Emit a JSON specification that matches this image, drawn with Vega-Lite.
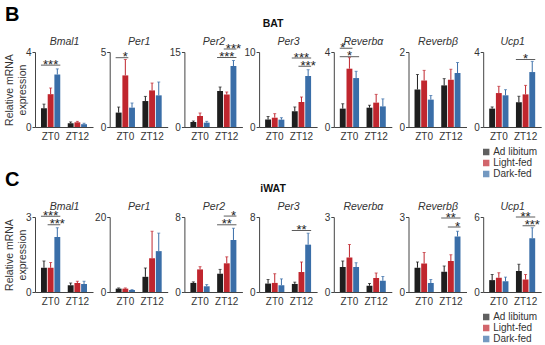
{
"$schema":"https://vega.github.io/schema/vega-lite/v6.json",
"padding":{"left":4,"right":0,"top":4,"bottom":0},
"datasets":{
"bars":[
{"tissue":"BAT","gene":"Bmal1","zt":"ZT0","group":"Ad libitum","mean":1.0,"upper":1.22},
{"tissue":"BAT","gene":"Bmal1","zt":"ZT0","group":"Light-fed","mean":1.75,"upper":2.08},
{"tissue":"BAT","gene":"Bmal1","zt":"ZT0","group":"Dark-fed","mean":2.8,"upper":3.1},
{"tissue":"BAT","gene":"Bmal1","zt":"ZT12","group":"Ad libitum","mean":0.2,"upper":0.27},
{"tissue":"BAT","gene":"Bmal1","zt":"ZT12","group":"Light-fed","mean":0.25,"upper":0.3},
{"tissue":"BAT","gene":"Bmal1","zt":"ZT12","group":"Dark-fed","mean":0.15,"upper":0.2},
{"tissue":"BAT","gene":"Per1","zt":"ZT0","group":"Ad libitum","mean":0.96,"upper":1.33},
{"tissue":"BAT","gene":"Per1","zt":"ZT0","group":"Light-fed","mean":3.44,"upper":4.5},
{"tissue":"BAT","gene":"Per1","zt":"ZT0","group":"Dark-fed","mean":1.29,"upper":1.6},
{"tissue":"BAT","gene":"Per1","zt":"ZT12","group":"Ad libitum","mean":1.73,"upper":2.04},
{"tissue":"BAT","gene":"Per1","zt":"ZT12","group":"Light-fed","mean":2.44,"upper":2.93},
{"tissue":"BAT","gene":"Per1","zt":"ZT12","group":"Dark-fed","mean":2.11,"upper":3.0},
{"tissue":"BAT","gene":"Per2","zt":"ZT0","group":"Ad libitum","mean":1.0,"upper":1.2},
{"tissue":"BAT","gene":"Per2","zt":"ZT0","group":"Light-fed","mean":2.2,"upper":2.8},
{"tissue":"BAT","gene":"Per2","zt":"ZT0","group":"Dark-fed","mean":0.87,"upper":1.13},
{"tissue":"BAT","gene":"Per2","zt":"ZT12","group":"Ad libitum","mean":7.2,"upper":8.0},
{"tissue":"BAT","gene":"Per2","zt":"ZT12","group":"Light-fed","mean":6.5,"upper":7.0},
{"tissue":"BAT","gene":"Per2","zt":"ZT12","group":"Dark-fed","mean":12.2,"upper":13.3},
{"tissue":"BAT","gene":"Per3","zt":"ZT0","group":"Ad libitum","mean":1.0,"upper":1.4},
{"tissue":"BAT","gene":"Per3","zt":"ZT0","group":"Light-fed","mean":1.24,"upper":1.78},
{"tissue":"BAT","gene":"Per3","zt":"ZT0","group":"Dark-fed","mean":0.98,"upper":1.24},
{"tissue":"BAT","gene":"Per3","zt":"ZT12","group":"Ad libitum","mean":2.1,"upper":2.67},
{"tissue":"BAT","gene":"Per3","zt":"ZT12","group":"Light-fed","mean":3.33,"upper":4.0},
{"tissue":"BAT","gene":"Per3","zt":"ZT12","group":"Dark-fed","mean":6.8,"upper":7.64},
{"tissue":"BAT","gene":"Reverbα","zt":"ZT0","group":"Ad libitum","mean":0.98,"upper":1.24},
{"tissue":"BAT","gene":"Reverbα","zt":"ZT0","group":"Light-fed","mean":3.11,"upper":3.7},
{"tissue":"BAT","gene":"Reverbα","zt":"ZT0","group":"Dark-fed","mean":2.61,"upper":2.97},
{"tissue":"BAT","gene":"Reverbα","zt":"ZT12","group":"Ad libitum","mean":1.03,"upper":1.16},
{"tissue":"BAT","gene":"Reverbα","zt":"ZT12","group":"Light-fed","mean":1.3,"upper":1.74},
{"tissue":"BAT","gene":"Reverbα","zt":"ZT12","group":"Dark-fed","mean":1.1,"upper":1.5},
{"tissue":"BAT","gene":"Reverbβ","zt":"ZT0","group":"Ad libitum","mean":1.0,"upper":1.4},
{"tissue":"BAT","gene":"Reverbβ","zt":"ZT0","group":"Light-fed","mean":1.24,"upper":1.51},
{"tissue":"BAT","gene":"Reverbβ","zt":"ZT0","group":"Dark-fed","mean":0.73,"upper":0.84},
{"tissue":"BAT","gene":"Reverbβ","zt":"ZT12","group":"Ad libitum","mean":1.11,"upper":1.29},
{"tissue":"BAT","gene":"Reverbβ","zt":"ZT12","group":"Light-fed","mean":1.26,"upper":1.54},
{"tissue":"BAT","gene":"Reverbβ","zt":"ZT12","group":"Dark-fed","mean":1.44,"upper":1.72},
{"tissue":"BAT","gene":"Ucp1","zt":"ZT0","group":"Ad libitum","mean":0.98,"upper":1.07},
{"tissue":"BAT","gene":"Ucp1","zt":"ZT0","group":"Light-fed","mean":1.81,"upper":2.17},
{"tissue":"BAT","gene":"Ucp1","zt":"ZT0","group":"Dark-fed","mean":1.69,"upper":1.99},
{"tissue":"BAT","gene":"Ucp1","zt":"ZT12","group":"Ad libitum","mean":1.32,"upper":1.64},
{"tissue":"BAT","gene":"Ucp1","zt":"ZT12","group":"Light-fed","mean":1.74,"upper":2.22},
{"tissue":"BAT","gene":"Ucp1","zt":"ZT12","group":"Dark-fed","mean":2.93,"upper":3.5},
{"tissue":"iWAT","gene":"Bmal1","zt":"ZT0","group":"Ad libitum","mean":0.97,"upper":1.24},
{"tissue":"iWAT","gene":"Bmal1","zt":"ZT0","group":"Light-fed","mean":0.97,"upper":1.18},
{"tissue":"iWAT","gene":"Bmal1","zt":"ZT0","group":"Dark-fed","mean":2.2,"upper":2.57},
{"tissue":"iWAT","gene":"Bmal1","zt":"ZT12","group":"Ad libitum","mean":0.27,"upper":0.36},
{"tissue":"iWAT","gene":"Bmal1","zt":"ZT12","group":"Light-fed","mean":0.36,"upper":0.43},
{"tissue":"iWAT","gene":"Bmal1","zt":"ZT12","group":"Dark-fed","mean":0.32,"upper":0.43},
{"tissue":"iWAT","gene":"Per1","zt":"ZT0","group":"Ad libitum","mean":0.9,"upper":1.08},
{"tissue":"iWAT","gene":"Per1","zt":"ZT0","group":"Light-fed","mean":0.9,"upper":1.08},
{"tissue":"iWAT","gene":"Per1","zt":"ZT0","group":"Dark-fed","mean":0.54,"upper":0.63},
{"tissue":"iWAT","gene":"Per1","zt":"ZT12","group":"Ad libitum","mean":4.05,"upper":6.4},
{"tissue":"iWAT","gene":"Per1","zt":"ZT12","group":"Light-fed","mean":9.0,"upper":16.2},
{"tissue":"iWAT","gene":"Per1","zt":"ZT12","group":"Dark-fed","mean":10.9,"upper":15.7},
{"tissue":"iWAT","gene":"Per2","zt":"ZT0","group":"Ad libitum","mean":0.97,"upper":1.08},
{"tissue":"iWAT","gene":"Per2","zt":"ZT0","group":"Light-fed","mean":2.41,"upper":2.7},
{"tissue":"iWAT","gene":"Per2","zt":"ZT0","group":"Dark-fed","mean":0.61,"upper":0.79},
{"tissue":"iWAT","gene":"Per2","zt":"ZT12","group":"Ad libitum","mean":1.95,"upper":2.41},
{"tissue":"iWAT","gene":"Per2","zt":"ZT12","group":"Light-fed","mean":3.06,"upper":3.75},
{"tissue":"iWAT","gene":"Per2","zt":"ZT12","group":"Dark-fed","mean":5.55,"upper":6.8},
{"tissue":"iWAT","gene":"Per3","zt":"ZT0","group":"Ad libitum","mean":0.9,"upper":1.33},
{"tissue":"iWAT","gene":"Per3","zt":"ZT0","group":"Light-fed","mean":0.97,"upper":1.95},
{"tissue":"iWAT","gene":"Per3","zt":"ZT0","group":"Dark-fed","mean":0.72,"upper":1.4},
{"tissue":"iWAT","gene":"Per3","zt":"ZT12","group":"Ad libitum","mean":0.86,"upper":1.05},
{"tissue":"iWAT","gene":"Per3","zt":"ZT12","group":"Light-fed","mean":2.13,"upper":3.2},
{"tissue":"iWAT","gene":"Per3","zt":"ZT12","group":"Dark-fed","mean":5.05,"upper":6.27},
{"tissue":"iWAT","gene":"Reverbα","zt":"ZT0","group":"Ad libitum","mean":1.0,"upper":1.24},
{"tissue":"iWAT","gene":"Reverbα","zt":"ZT0","group":"Light-fed","mean":1.38,"upper":1.9},
{"tissue":"iWAT","gene":"Reverbα","zt":"ZT0","group":"Dark-fed","mean":1.0,"upper":1.17},
{"tissue":"iWAT","gene":"Reverbα","zt":"ZT12","group":"Ad libitum","mean":0.25,"upper":0.34},
{"tissue":"iWAT","gene":"Reverbα","zt":"ZT12","group":"Light-fed","mean":0.56,"upper":0.76},
{"tissue":"iWAT","gene":"Reverbα","zt":"ZT12","group":"Dark-fed","mean":0.45,"upper":0.62},
{"tissue":"iWAT","gene":"Reverbβ","zt":"ZT0","group":"Ad libitum","mean":0.97,"upper":1.2},
{"tissue":"iWAT","gene":"Reverbβ","zt":"ZT0","group":"Light-fed","mean":1.14,"upper":1.58},
{"tissue":"iWAT","gene":"Reverbβ","zt":"ZT0","group":"Dark-fed","mean":0.36,"upper":0.5},
{"tissue":"iWAT","gene":"Reverbβ","zt":"ZT12","group":"Ad libitum","mean":0.81,"upper":1.04},
{"tissue":"iWAT","gene":"Reverbβ","zt":"ZT12","group":"Light-fed","mean":1.24,"upper":1.49},
{"tissue":"iWAT","gene":"Reverbβ","zt":"ZT12","group":"Dark-fed","mean":2.22,"upper":2.43},
{"tissue":"iWAT","gene":"Ucp1","zt":"ZT0","group":"Ad libitum","mean":0.95,"upper":1.4},
{"tissue":"iWAT","gene":"Ucp1","zt":"ZT0","group":"Light-fed","mean":1.14,"upper":1.54},
{"tissue":"iWAT","gene":"Ucp1","zt":"ZT0","group":"Dark-fed","mean":0.86,"upper":1.19},
{"tissue":"iWAT","gene":"Ucp1","zt":"ZT12","group":"Ad libitum","mean":1.68,"upper":2.22},
{"tissue":"iWAT","gene":"Ucp1","zt":"ZT12","group":"Light-fed","mean":1.0,"upper":1.4},
{"tissue":"iWAT","gene":"Ucp1","zt":"ZT12","group":"Dark-fed","mean":4.3,"upper":5.14}
],
"sig":[
{"tissue":"BAT","gene":"Bmal1","from":"ZT0|Ad libitum","to":"ZT0|Dark-fed","mid":"ZT0|Light-fed","y":3.3,"label":"***"},
{"tissue":"BAT","gene":"Per1","from":"ZT0|Ad libitum","to":"ZT0|Light-fed","mid":"ZT0|Light-fed","y":4.62,"label":"*"},
{"tissue":"BAT","gene":"Per2","from":"ZT12|Ad libitum","to":"ZT12|Dark-fed","mid":"ZT12|Light-fed","y":13.9,"label":"***"},
{"tissue":"BAT","gene":"Per2","from":"ZT12|Light-fed","to":"ZT12|Dark-fed","mid":"ZT12|Dark-fed","y":15.6,"label":"***"},
{"tissue":"BAT","gene":"Per3","from":"ZT12|Ad libitum","to":"ZT12|Dark-fed","mid":"ZT12|Light-fed","y":9.2,"label":"***"},
{"tissue":"BAT","gene":"Per3","from":"ZT12|Light-fed","to":"ZT12|Dark-fed","mid":"ZT12|Dark-fed","y":8.1,"label":"***"},
{"tissue":"BAT","gene":"Reverbα","from":"ZT0|Ad libitum","to":"ZT0|Light-fed","mid":"ZT0|Ad libitum","y":4.2,"label":"*"},
{"tissue":"BAT","gene":"Reverbα","from":"ZT0|Ad libitum","to":"ZT0|Dark-fed","mid":"ZT0|Light-fed","y":3.75,"label":"*"},
{"tissue":"BAT","gene":"Ucp1","from":"ZT12|Ad libitum","to":"ZT12|Dark-fed","mid":"ZT12|Light-fed","y":3.6,"label":"*"},
{"tissue":"iWAT","gene":"Bmal1","from":"ZT0|Ad libitum","to":"ZT0|Dark-fed","mid":"ZT0|Light-fed","y":3.03,"label":"***"},
{"tissue":"iWAT","gene":"Bmal1","from":"ZT0|Light-fed","to":"ZT0|Dark-fed","mid":"ZT0|Dark-fed","y":2.69,"label":"***"},
{"tissue":"iWAT","gene":"Per2","from":"ZT12|Ad libitum","to":"ZT12|Dark-fed","mid":"ZT12|Light-fed","y":7.17,"label":"**"},
{"tissue":"iWAT","gene":"Per2","from":"ZT12|Light-fed","to":"ZT12|Dark-fed","mid":"ZT12|Dark-fed","y":8.1,"label":"*"},
{"tissue":"iWAT","gene":"Per3","from":"ZT12|Ad libitum","to":"ZT12|Dark-fed","mid":"ZT12|Light-fed","y":6.56,"label":"**"},
{"tissue":"iWAT","gene":"Reverbβ","from":"ZT12|Ad libitum","to":"ZT12|Dark-fed","mid":"ZT12|Light-fed","y":2.96,"label":"**"},
{"tissue":"iWAT","gene":"Reverbβ","from":"ZT12|Light-fed","to":"ZT12|Dark-fed","mid":"ZT12|Dark-fed","y":2.6,"label":"*"},
{"tissue":"iWAT","gene":"Ucp1","from":"ZT12|Ad libitum","to":"ZT12|Dark-fed","mid":"ZT12|Light-fed","y":6.0,"label":"**"},
{"tissue":"iWAT","gene":"Ucp1","from":"ZT12|Light-fed","to":"ZT12|Dark-fed","mid":"ZT12|Dark-fed","y":5.3,"label":"***"}
]
},
"spacing":-11,
"resolve":{"scale":{"color":"independent"}},
"vconcat":[
{"title":{"text":"B","anchor":"start","fontSize":20,"fontWeight":"bold","color":"#000","offset":-6},
 "resolve":{"scale":{"color":"independent"}},
 "vconcat":[{"title":{"text":"BAT","anchor":"middle","fontSize":10.5,"fontWeight":"bold","color":"#111","offset":7},
 "bounds":"flush","spacing":16.7,"resolve":{"scale":{"color":"independent"}},
 "hconcat":[
{"width":58,"height":75,"resolve":{"axis":{"x":"independent"}},"layer":[
 {"data":{"name":"bars"},"transform":[{"filter":"datum.tissue=='BAT'&&datum.gene=='Bmal1'"},{"calculate":"datum.zt+'|'+datum.group","as":"slot"}],
  "encoding":{"x":{"field":"slot","type":"nominal","scale":{"domain":["ZT0|Ad libitum","ZT0|Light-fed","ZT0|Dark-fed","gap","ZT12|Ad libitum","ZT12|Light-fed","ZT12|Dark-fed"],"paddingInner":0.12,"paddingOuter":0.9},"axis":{"values":["ZT0|Light-fed","ZT12|Light-fed"],"labelExpr":"split(datum.value,'|')[0]","title":null}},
   "color":{"field":"group","type":"nominal","scale":{"domain":["Ad libitum","Light-fed","Dark-fed"],"range":["#1e1e1e","#c0262e","#3a6ea8"]},"legend":null}},
  "layer":[
   {"mark":"bar","encoding":{"y":{"field":"mean","type":"quantitative","scale":{"domain":[0,4],"nice":false},"axis":{"values":[0,4],"title":["Relative mRNA","expression"],"titlePadding":-2}}}},
   {"mark":{"type":"rule","strokeWidth":1},"encoding":{"y":{"field":"mean","type":"quantitative"},"y2":{"field":"upper"}}},
   {"mark":{"type":"tick","size":3,"thickness":1},"encoding":{"y":{"field":"upper","type":"quantitative"}}}]},
 {"data":{"name":"sig"},"transform":[{"filter":"datum.tissue=='BAT'&&datum.gene=='Bmal1'"}],"layer":[
   {"mark":{"type":"rule","color":"#333","strokeWidth":0.8,"xOffset":-3,"x2Offset":3},"encoding":{"x":{"field":"from","type":"nominal","axis":{"orient":"top","labels":false,"ticks":false,"domain":false,"title":"Bmal1"}},"x2":{"field":"to"},"y":{"field":"y","type":"quantitative"}}},
   {"mark":{"type":"text","fontSize":13,"dy":3.5,"baseline":"alphabetic","color":"#222"},"encoding":{"x":{"field":"mid","type":"nominal"},"y":{"field":"y","type":"quantitative"},"text":{"field":"label"}}}]}]},
{"width":58,"height":75,"resolve":{"axis":{"x":"independent"}},"layer":[
 {"data":{"name":"bars"},"transform":[{"filter":"datum.tissue=='BAT'&&datum.gene=='Per1'"},{"calculate":"datum.zt+'|'+datum.group","as":"slot"}],
  "encoding":{"x":{"field":"slot","type":"nominal","scale":{"domain":["ZT0|Ad libitum","ZT0|Light-fed","ZT0|Dark-fed","gap","ZT12|Ad libitum","ZT12|Light-fed","ZT12|Dark-fed"],"paddingInner":0.12,"paddingOuter":0.9},"axis":{"values":["ZT0|Light-fed","ZT12|Light-fed"],"labelExpr":"split(datum.value,'|')[0]","title":null}},
   "color":{"field":"group","type":"nominal","scale":{"domain":["Ad libitum","Light-fed","Dark-fed"],"range":["#1e1e1e","#c0262e","#3a6ea8"]},"legend":null}},
  "layer":[
   {"mark":"bar","encoding":{"y":{"field":"mean","type":"quantitative","scale":{"domain":[0,5],"nice":false},"axis":{"values":[0,5],"title":null}}}},
   {"mark":{"type":"rule","strokeWidth":1},"encoding":{"y":{"field":"mean","type":"quantitative","title":null},"y2":{"field":"upper"}}},
   {"mark":{"type":"tick","size":3,"thickness":1},"encoding":{"y":{"field":"upper","type":"quantitative","title":null}}}]},
 {"data":{"name":"sig"},"transform":[{"filter":"datum.tissue=='BAT'&&datum.gene=='Per1'"}],"layer":[
   {"mark":{"type":"rule","color":"#333","strokeWidth":0.8,"xOffset":-3,"x2Offset":3},"encoding":{"x":{"field":"from","type":"nominal","axis":{"orient":"top","labels":false,"ticks":false,"domain":false,"title":"Per1"}},"x2":{"field":"to"},"y":{"field":"y","type":"quantitative","title":null}}},
   {"mark":{"type":"text","fontSize":13,"dy":3.5,"baseline":"alphabetic","color":"#222"},"encoding":{"x":{"field":"mid","type":"nominal"},"y":{"field":"y","type":"quantitative","title":null},"text":{"field":"label"}}}]}]},
{"width":58,"height":75,"resolve":{"axis":{"x":"independent"}},"layer":[
 {"data":{"name":"bars"},"transform":[{"filter":"datum.tissue=='BAT'&&datum.gene=='Per2'"},{"calculate":"datum.zt+'|'+datum.group","as":"slot"}],
  "encoding":{"x":{"field":"slot","type":"nominal","scale":{"domain":["ZT0|Ad libitum","ZT0|Light-fed","ZT0|Dark-fed","gap","ZT12|Ad libitum","ZT12|Light-fed","ZT12|Dark-fed"],"paddingInner":0.12,"paddingOuter":0.9},"axis":{"values":["ZT0|Light-fed","ZT12|Light-fed"],"labelExpr":"split(datum.value,'|')[0]","title":null}},
   "color":{"field":"group","type":"nominal","scale":{"domain":["Ad libitum","Light-fed","Dark-fed"],"range":["#1e1e1e","#c0262e","#3a6ea8"]},"legend":null}},
  "layer":[
   {"mark":"bar","encoding":{"y":{"field":"mean","type":"quantitative","scale":{"domain":[0,15],"nice":false},"axis":{"values":[0,15],"title":null}}}},
   {"mark":{"type":"rule","strokeWidth":1},"encoding":{"y":{"field":"mean","type":"quantitative","title":null},"y2":{"field":"upper"}}},
   {"mark":{"type":"tick","size":3,"thickness":1},"encoding":{"y":{"field":"upper","type":"quantitative","title":null}}}]},
 {"data":{"name":"sig"},"transform":[{"filter":"datum.tissue=='BAT'&&datum.gene=='Per2'"}],"layer":[
   {"mark":{"type":"rule","color":"#333","strokeWidth":0.8,"xOffset":-3,"x2Offset":3},"encoding":{"x":{"field":"from","type":"nominal","axis":{"orient":"top","labels":false,"ticks":false,"domain":false,"title":"Per2"}},"x2":{"field":"to"},"y":{"field":"y","type":"quantitative","title":null}}},
   {"mark":{"type":"text","fontSize":13,"dy":3.5,"baseline":"alphabetic","color":"#222"},"encoding":{"x":{"field":"mid","type":"nominal"},"y":{"field":"y","type":"quantitative","title":null},"text":{"field":"label"}}}]}]},
{"width":58,"height":75,"resolve":{"axis":{"x":"independent"}},"layer":[
 {"data":{"name":"bars"},"transform":[{"filter":"datum.tissue=='BAT'&&datum.gene=='Per3'"},{"calculate":"datum.zt+'|'+datum.group","as":"slot"}],
  "encoding":{"x":{"field":"slot","type":"nominal","scale":{"domain":["ZT0|Ad libitum","ZT0|Light-fed","ZT0|Dark-fed","gap","ZT12|Ad libitum","ZT12|Light-fed","ZT12|Dark-fed"],"paddingInner":0.12,"paddingOuter":0.9},"axis":{"values":["ZT0|Light-fed","ZT12|Light-fed"],"labelExpr":"split(datum.value,'|')[0]","title":null}},
   "color":{"field":"group","type":"nominal","scale":{"domain":["Ad libitum","Light-fed","Dark-fed"],"range":["#1e1e1e","#c0262e","#3a6ea8"]},"legend":null}},
  "layer":[
   {"mark":"bar","encoding":{"y":{"field":"mean","type":"quantitative","scale":{"domain":[0,10],"nice":false},"axis":{"values":[0,10],"title":null}}}},
   {"mark":{"type":"rule","strokeWidth":1},"encoding":{"y":{"field":"mean","type":"quantitative","title":null},"y2":{"field":"upper"}}},
   {"mark":{"type":"tick","size":3,"thickness":1},"encoding":{"y":{"field":"upper","type":"quantitative","title":null}}}]},
 {"data":{"name":"sig"},"transform":[{"filter":"datum.tissue=='BAT'&&datum.gene=='Per3'"}],"layer":[
   {"mark":{"type":"rule","color":"#333","strokeWidth":0.8,"xOffset":-3,"x2Offset":3},"encoding":{"x":{"field":"from","type":"nominal","axis":{"orient":"top","labels":false,"ticks":false,"domain":false,"title":"Per3"}},"x2":{"field":"to"},"y":{"field":"y","type":"quantitative","title":null}}},
   {"mark":{"type":"text","fontSize":13,"dy":3.5,"baseline":"alphabetic","color":"#222"},"encoding":{"x":{"field":"mid","type":"nominal"},"y":{"field":"y","type":"quantitative","title":null},"text":{"field":"label"}}}]}]},
{"width":58,"height":75,"resolve":{"axis":{"x":"independent"}},"layer":[
 {"data":{"name":"bars"},"transform":[{"filter":"datum.tissue=='BAT'&&datum.gene=='Reverbα'"},{"calculate":"datum.zt+'|'+datum.group","as":"slot"}],
  "encoding":{"x":{"field":"slot","type":"nominal","scale":{"domain":["ZT0|Ad libitum","ZT0|Light-fed","ZT0|Dark-fed","gap","ZT12|Ad libitum","ZT12|Light-fed","ZT12|Dark-fed"],"paddingInner":0.12,"paddingOuter":0.9},"axis":{"values":["ZT0|Light-fed","ZT12|Light-fed"],"labelExpr":"split(datum.value,'|')[0]","title":null}},
   "color":{"field":"group","type":"nominal","scale":{"domain":["Ad libitum","Light-fed","Dark-fed"],"range":["#1e1e1e","#c0262e","#3a6ea8"]},"legend":null}},
  "layer":[
   {"mark":"bar","encoding":{"y":{"field":"mean","type":"quantitative","scale":{"domain":[0,4],"nice":false},"axis":{"values":[0,4],"title":null}}}},
   {"mark":{"type":"rule","strokeWidth":1},"encoding":{"y":{"field":"mean","type":"quantitative","title":null},"y2":{"field":"upper"}}},
   {"mark":{"type":"tick","size":3,"thickness":1},"encoding":{"y":{"field":"upper","type":"quantitative","title":null}}}]},
 {"data":{"name":"sig"},"transform":[{"filter":"datum.tissue=='BAT'&&datum.gene=='Reverbα'"}],"layer":[
   {"mark":{"type":"rule","color":"#333","strokeWidth":0.8,"xOffset":-3,"x2Offset":3},"encoding":{"x":{"field":"from","type":"nominal","axis":{"orient":"top","labels":false,"ticks":false,"domain":false,"title":"Reverbα"}},"x2":{"field":"to"},"y":{"field":"y","type":"quantitative","title":null}}},
   {"mark":{"type":"text","fontSize":13,"dy":3.5,"baseline":"alphabetic","color":"#222"},"encoding":{"x":{"field":"mid","type":"nominal"},"y":{"field":"y","type":"quantitative","title":null},"text":{"field":"label"}}}]}]},
{"width":58,"height":75,"resolve":{"axis":{"x":"independent"}},"layer":[
 {"data":{"name":"bars"},"transform":[{"filter":"datum.tissue=='BAT'&&datum.gene=='Reverbβ'"},{"calculate":"datum.zt+'|'+datum.group","as":"slot"}],
  "encoding":{"x":{"field":"slot","type":"nominal","scale":{"domain":["ZT0|Ad libitum","ZT0|Light-fed","ZT0|Dark-fed","gap","ZT12|Ad libitum","ZT12|Light-fed","ZT12|Dark-fed"],"paddingInner":0.12,"paddingOuter":0.9},"axis":{"values":["ZT0|Light-fed","ZT12|Light-fed"],"labelExpr":"split(datum.value,'|')[0]","title":null}},
   "color":{"field":"group","type":"nominal","scale":{"domain":["Ad libitum","Light-fed","Dark-fed"],"range":["#1e1e1e","#c0262e","#3a6ea8"]},"legend":null}},
  "layer":[
   {"mark":"bar","encoding":{"y":{"field":"mean","type":"quantitative","scale":{"domain":[0,2],"nice":false},"axis":{"values":[0,2],"title":null}}}},
   {"mark":{"type":"rule","strokeWidth":1},"encoding":{"y":{"field":"mean","type":"quantitative","title":null},"y2":{"field":"upper"}}},
   {"mark":{"type":"tick","size":3,"thickness":1},"encoding":{"y":{"field":"upper","type":"quantitative","title":null}}}]},
 {"data":{"name":"sig"},"transform":[{"filter":"datum.tissue=='BAT'&&datum.gene=='Reverbβ'"}],"layer":[
   {"mark":{"type":"rule","color":"#333","strokeWidth":0.8,"xOffset":-3,"x2Offset":3},"encoding":{"x":{"field":"from","type":"nominal","axis":{"orient":"top","labels":false,"ticks":false,"domain":false,"title":"Reverbβ"}},"x2":{"field":"to"},"y":{"field":"y","type":"quantitative","title":null}}},
   {"mark":{"type":"text","fontSize":13,"dy":3.5,"baseline":"alphabetic","color":"#222"},"encoding":{"x":{"field":"mid","type":"nominal"},"y":{"field":"y","type":"quantitative","title":null},"text":{"field":"label"}}}]}]},
{"width":58,"height":75,"resolve":{"axis":{"x":"independent"}},"layer":[
 {"data":{"name":"bars"},"transform":[{"filter":"datum.tissue=='BAT'&&datum.gene=='Ucp1'"},{"calculate":"datum.zt+'|'+datum.group","as":"slot"}],
  "encoding":{"x":{"field":"slot","type":"nominal","scale":{"domain":["ZT0|Ad libitum","ZT0|Light-fed","ZT0|Dark-fed","gap","ZT12|Ad libitum","ZT12|Light-fed","ZT12|Dark-fed"],"paddingInner":0.12,"paddingOuter":0.9},"axis":{"values":["ZT0|Light-fed","ZT12|Light-fed"],"labelExpr":"split(datum.value,'|')[0]","title":null}},
   "color":{"field":"group","type":"nominal","scale":{"domain":["Ad libitum","Light-fed","Dark-fed"],"range":["#1e1e1e","#c0262e","#3a6ea8"]},"legend":{"orient":"none","legendX":-2,"legendY":95,"title":null,"symbolType":"square","symbolSize":24,"labelFontSize":10,"labelColor":"#333","rowPadding":-2,"labelOffset":2}}},
  "layer":[
   {"mark":"bar","encoding":{"y":{"field":"mean","type":"quantitative","scale":{"domain":[0,4],"nice":false},"axis":{"values":[0,4],"title":null}}}},
   {"mark":{"type":"rule","strokeWidth":1},"encoding":{"y":{"field":"mean","type":"quantitative","title":null},"y2":{"field":"upper"}}},
   {"mark":{"type":"tick","size":3,"thickness":1},"encoding":{"y":{"field":"upper","type":"quantitative","title":null}}}]},
 {"data":{"name":"sig"},"transform":[{"filter":"datum.tissue=='BAT'&&datum.gene=='Ucp1'"}],"layer":[
   {"mark":{"type":"rule","color":"#333","strokeWidth":0.8,"xOffset":-3,"x2Offset":3},"encoding":{"x":{"field":"from","type":"nominal","axis":{"orient":"top","labels":false,"ticks":false,"domain":false,"title":"Ucp1"}},"x2":{"field":"to"},"y":{"field":"y","type":"quantitative","title":null}}},
   {"mark":{"type":"text","fontSize":13,"dy":3.5,"baseline":"alphabetic","color":"#222"},"encoding":{"x":{"field":"mid","type":"nominal"},"y":{"field":"y","type":"quantitative","title":null},"text":{"field":"label"}}}]}]}
 ]}]},
{"title":{"text":"C","anchor":"start","fontSize":20,"fontWeight":"bold","color":"#000","offset":-6},
 "resolve":{"scale":{"color":"independent"}},
 "vconcat":[{"title":{"text":"iWAT","anchor":"middle","fontSize":10.5,"fontWeight":"bold","color":"#111","offset":7},
 "bounds":"flush","spacing":16.7,"resolve":{"scale":{"color":"independent"}},
 "hconcat":[
{"width":58,"height":75,"resolve":{"axis":{"x":"independent"}},"layer":[
 {"data":{"name":"bars"},"transform":[{"filter":"datum.tissue=='iWAT'&&datum.gene=='Bmal1'"},{"calculate":"datum.zt+'|'+datum.group","as":"slot"}],
  "encoding":{"x":{"field":"slot","type":"nominal","scale":{"domain":["ZT0|Ad libitum","ZT0|Light-fed","ZT0|Dark-fed","gap","ZT12|Ad libitum","ZT12|Light-fed","ZT12|Dark-fed"],"paddingInner":0.12,"paddingOuter":0.9},"axis":{"values":["ZT0|Light-fed","ZT12|Light-fed"],"labelExpr":"split(datum.value,'|')[0]","title":null}},
   "color":{"field":"group","type":"nominal","scale":{"domain":["Ad libitum","Light-fed","Dark-fed"],"range":["#1e1e1e","#c0262e","#3a6ea8"]},"legend":null}},
  "layer":[
   {"mark":"bar","encoding":{"y":{"field":"mean","type":"quantitative","scale":{"domain":[0,3],"nice":false},"axis":{"values":[0,3],"title":["Relative mRNA","expression"],"titlePadding":-2}}}},
   {"mark":{"type":"rule","strokeWidth":1},"encoding":{"y":{"field":"mean","type":"quantitative"},"y2":{"field":"upper"}}},
   {"mark":{"type":"tick","size":3,"thickness":1},"encoding":{"y":{"field":"upper","type":"quantitative"}}}]},
 {"data":{"name":"sig"},"transform":[{"filter":"datum.tissue=='iWAT'&&datum.gene=='Bmal1'"}],"layer":[
   {"mark":{"type":"rule","color":"#333","strokeWidth":0.8,"xOffset":-3,"x2Offset":3},"encoding":{"x":{"field":"from","type":"nominal","axis":{"orient":"top","labels":false,"ticks":false,"domain":false,"title":"Bmal1"}},"x2":{"field":"to"},"y":{"field":"y","type":"quantitative"}}},
   {"mark":{"type":"text","fontSize":13,"dy":3.5,"baseline":"alphabetic","color":"#222"},"encoding":{"x":{"field":"mid","type":"nominal"},"y":{"field":"y","type":"quantitative"},"text":{"field":"label"}}}]}]},
{"width":58,"height":75,"resolve":{"axis":{"x":"independent"}},"layer":[
 {"data":{"name":"bars"},"transform":[{"filter":"datum.tissue=='iWAT'&&datum.gene=='Per1'"},{"calculate":"datum.zt+'|'+datum.group","as":"slot"}],
  "encoding":{"x":{"field":"slot","type":"nominal","scale":{"domain":["ZT0|Ad libitum","ZT0|Light-fed","ZT0|Dark-fed","gap","ZT12|Ad libitum","ZT12|Light-fed","ZT12|Dark-fed"],"paddingInner":0.12,"paddingOuter":0.9},"axis":{"values":["ZT0|Light-fed","ZT12|Light-fed"],"labelExpr":"split(datum.value,'|')[0]","title":null}},
   "color":{"field":"group","type":"nominal","scale":{"domain":["Ad libitum","Light-fed","Dark-fed"],"range":["#1e1e1e","#c0262e","#3a6ea8"]},"legend":null}},
  "layer":[
   {"mark":"bar","encoding":{"y":{"field":"mean","type":"quantitative","scale":{"domain":[0,20],"nice":false},"axis":{"values":[0,20],"title":null}}}},
   {"mark":{"type":"rule","strokeWidth":1},"encoding":{"y":{"field":"mean","type":"quantitative","title":null},"y2":{"field":"upper"}}},
   {"mark":{"type":"tick","size":3,"thickness":1},"encoding":{"y":{"field":"upper","type":"quantitative","title":null}}}]},
 {"data":{"name":"sig"},"transform":[{"filter":"datum.tissue=='iWAT'&&datum.gene=='Per1'"}],"layer":[
   {"mark":{"type":"rule","color":"#333","strokeWidth":0.8,"xOffset":-3,"x2Offset":3},"encoding":{"x":{"field":"from","type":"nominal","axis":{"orient":"top","labels":false,"ticks":false,"domain":false,"title":"Per1"}},"x2":{"field":"to"},"y":{"field":"y","type":"quantitative","title":null}}},
   {"mark":{"type":"text","fontSize":13,"dy":3.5,"baseline":"alphabetic","color":"#222"},"encoding":{"x":{"field":"mid","type":"nominal"},"y":{"field":"y","type":"quantitative","title":null},"text":{"field":"label"}}}]}]},
{"width":58,"height":75,"resolve":{"axis":{"x":"independent"}},"layer":[
 {"data":{"name":"bars"},"transform":[{"filter":"datum.tissue=='iWAT'&&datum.gene=='Per2'"},{"calculate":"datum.zt+'|'+datum.group","as":"slot"}],
  "encoding":{"x":{"field":"slot","type":"nominal","scale":{"domain":["ZT0|Ad libitum","ZT0|Light-fed","ZT0|Dark-fed","gap","ZT12|Ad libitum","ZT12|Light-fed","ZT12|Dark-fed"],"paddingInner":0.12,"paddingOuter":0.9},"axis":{"values":["ZT0|Light-fed","ZT12|Light-fed"],"labelExpr":"split(datum.value,'|')[0]","title":null}},
   "color":{"field":"group","type":"nominal","scale":{"domain":["Ad libitum","Light-fed","Dark-fed"],"range":["#1e1e1e","#c0262e","#3a6ea8"]},"legend":null}},
  "layer":[
   {"mark":"bar","encoding":{"y":{"field":"mean","type":"quantitative","scale":{"domain":[0,8],"nice":false},"axis":{"values":[0,8],"title":null}}}},
   {"mark":{"type":"rule","strokeWidth":1},"encoding":{"y":{"field":"mean","type":"quantitative","title":null},"y2":{"field":"upper"}}},
   {"mark":{"type":"tick","size":3,"thickness":1},"encoding":{"y":{"field":"upper","type":"quantitative","title":null}}}]},
 {"data":{"name":"sig"},"transform":[{"filter":"datum.tissue=='iWAT'&&datum.gene=='Per2'"}],"layer":[
   {"mark":{"type":"rule","color":"#333","strokeWidth":0.8,"xOffset":-3,"x2Offset":3},"encoding":{"x":{"field":"from","type":"nominal","axis":{"orient":"top","labels":false,"ticks":false,"domain":false,"title":"Per2"}},"x2":{"field":"to"},"y":{"field":"y","type":"quantitative","title":null}}},
   {"mark":{"type":"text","fontSize":13,"dy":3.5,"baseline":"alphabetic","color":"#222"},"encoding":{"x":{"field":"mid","type":"nominal"},"y":{"field":"y","type":"quantitative","title":null},"text":{"field":"label"}}}]}]},
{"width":58,"height":75,"resolve":{"axis":{"x":"independent"}},"layer":[
 {"data":{"name":"bars"},"transform":[{"filter":"datum.tissue=='iWAT'&&datum.gene=='Per3'"},{"calculate":"datum.zt+'|'+datum.group","as":"slot"}],
  "encoding":{"x":{"field":"slot","type":"nominal","scale":{"domain":["ZT0|Ad libitum","ZT0|Light-fed","ZT0|Dark-fed","gap","ZT12|Ad libitum","ZT12|Light-fed","ZT12|Dark-fed"],"paddingInner":0.12,"paddingOuter":0.9},"axis":{"values":["ZT0|Light-fed","ZT12|Light-fed"],"labelExpr":"split(datum.value,'|')[0]","title":null}},
   "color":{"field":"group","type":"nominal","scale":{"domain":["Ad libitum","Light-fed","Dark-fed"],"range":["#1e1e1e","#c0262e","#3a6ea8"]},"legend":null}},
  "layer":[
   {"mark":"bar","encoding":{"y":{"field":"mean","type":"quantitative","scale":{"domain":[0,8],"nice":false},"axis":{"values":[0,8],"title":null}}}},
   {"mark":{"type":"rule","strokeWidth":1},"encoding":{"y":{"field":"mean","type":"quantitative","title":null},"y2":{"field":"upper"}}},
   {"mark":{"type":"tick","size":3,"thickness":1},"encoding":{"y":{"field":"upper","type":"quantitative","title":null}}}]},
 {"data":{"name":"sig"},"transform":[{"filter":"datum.tissue=='iWAT'&&datum.gene=='Per3'"}],"layer":[
   {"mark":{"type":"rule","color":"#333","strokeWidth":0.8,"xOffset":-3,"x2Offset":3},"encoding":{"x":{"field":"from","type":"nominal","axis":{"orient":"top","labels":false,"ticks":false,"domain":false,"title":"Per3"}},"x2":{"field":"to"},"y":{"field":"y","type":"quantitative","title":null}}},
   {"mark":{"type":"text","fontSize":13,"dy":3.5,"baseline":"alphabetic","color":"#222"},"encoding":{"x":{"field":"mid","type":"nominal"},"y":{"field":"y","type":"quantitative","title":null},"text":{"field":"label"}}}]}]},
{"width":58,"height":75,"resolve":{"axis":{"x":"independent"}},"layer":[
 {"data":{"name":"bars"},"transform":[{"filter":"datum.tissue=='iWAT'&&datum.gene=='Reverbα'"},{"calculate":"datum.zt+'|'+datum.group","as":"slot"}],
  "encoding":{"x":{"field":"slot","type":"nominal","scale":{"domain":["ZT0|Ad libitum","ZT0|Light-fed","ZT0|Dark-fed","gap","ZT12|Ad libitum","ZT12|Light-fed","ZT12|Dark-fed"],"paddingInner":0.12,"paddingOuter":0.9},"axis":{"values":["ZT0|Light-fed","ZT12|Light-fed"],"labelExpr":"split(datum.value,'|')[0]","title":null}},
   "color":{"field":"group","type":"nominal","scale":{"domain":["Ad libitum","Light-fed","Dark-fed"],"range":["#1e1e1e","#c0262e","#3a6ea8"]},"legend":null}},
  "layer":[
   {"mark":"bar","encoding":{"y":{"field":"mean","type":"quantitative","scale":{"domain":[0,3],"nice":false},"axis":{"values":[0,3],"title":null}}}},
   {"mark":{"type":"rule","strokeWidth":1},"encoding":{"y":{"field":"mean","type":"quantitative","title":null},"y2":{"field":"upper"}}},
   {"mark":{"type":"tick","size":3,"thickness":1},"encoding":{"y":{"field":"upper","type":"quantitative","title":null}}}]},
 {"data":{"name":"sig"},"transform":[{"filter":"datum.tissue=='iWAT'&&datum.gene=='Reverbα'"}],"layer":[
   {"mark":{"type":"rule","color":"#333","strokeWidth":0.8,"xOffset":-3,"x2Offset":3},"encoding":{"x":{"field":"from","type":"nominal","axis":{"orient":"top","labels":false,"ticks":false,"domain":false,"title":"Reverbα"}},"x2":{"field":"to"},"y":{"field":"y","type":"quantitative","title":null}}},
   {"mark":{"type":"text","fontSize":13,"dy":3.5,"baseline":"alphabetic","color":"#222"},"encoding":{"x":{"field":"mid","type":"nominal"},"y":{"field":"y","type":"quantitative","title":null},"text":{"field":"label"}}}]}]},
{"width":58,"height":75,"resolve":{"axis":{"x":"independent"}},"layer":[
 {"data":{"name":"bars"},"transform":[{"filter":"datum.tissue=='iWAT'&&datum.gene=='Reverbβ'"},{"calculate":"datum.zt+'|'+datum.group","as":"slot"}],
  "encoding":{"x":{"field":"slot","type":"nominal","scale":{"domain":["ZT0|Ad libitum","ZT0|Light-fed","ZT0|Dark-fed","gap","ZT12|Ad libitum","ZT12|Light-fed","ZT12|Dark-fed"],"paddingInner":0.12,"paddingOuter":0.9},"axis":{"values":["ZT0|Light-fed","ZT12|Light-fed"],"labelExpr":"split(datum.value,'|')[0]","title":null}},
   "color":{"field":"group","type":"nominal","scale":{"domain":["Ad libitum","Light-fed","Dark-fed"],"range":["#1e1e1e","#c0262e","#3a6ea8"]},"legend":null}},
  "layer":[
   {"mark":"bar","encoding":{"y":{"field":"mean","type":"quantitative","scale":{"domain":[0,3],"nice":false},"axis":{"values":[0,3],"title":null}}}},
   {"mark":{"type":"rule","strokeWidth":1},"encoding":{"y":{"field":"mean","type":"quantitative","title":null},"y2":{"field":"upper"}}},
   {"mark":{"type":"tick","size":3,"thickness":1},"encoding":{"y":{"field":"upper","type":"quantitative","title":null}}}]},
 {"data":{"name":"sig"},"transform":[{"filter":"datum.tissue=='iWAT'&&datum.gene=='Reverbβ'"}],"layer":[
   {"mark":{"type":"rule","color":"#333","strokeWidth":0.8,"xOffset":-3,"x2Offset":3},"encoding":{"x":{"field":"from","type":"nominal","axis":{"orient":"top","labels":false,"ticks":false,"domain":false,"title":"Reverbβ"}},"x2":{"field":"to"},"y":{"field":"y","type":"quantitative","title":null}}},
   {"mark":{"type":"text","fontSize":13,"dy":3.5,"baseline":"alphabetic","color":"#222"},"encoding":{"x":{"field":"mid","type":"nominal"},"y":{"field":"y","type":"quantitative","title":null},"text":{"field":"label"}}}]}]},
{"width":58,"height":75,"resolve":{"axis":{"x":"independent"}},"layer":[
 {"data":{"name":"bars"},"transform":[{"filter":"datum.tissue=='iWAT'&&datum.gene=='Ucp1'"},{"calculate":"datum.zt+'|'+datum.group","as":"slot"}],
  "encoding":{"x":{"field":"slot","type":"nominal","scale":{"domain":["ZT0|Ad libitum","ZT0|Light-fed","ZT0|Dark-fed","gap","ZT12|Ad libitum","ZT12|Light-fed","ZT12|Dark-fed"],"paddingInner":0.12,"paddingOuter":0.9},"axis":{"values":["ZT0|Light-fed","ZT12|Light-fed"],"labelExpr":"split(datum.value,'|')[0]","title":null}},
   "color":{"field":"group","type":"nominal","scale":{"domain":["Ad libitum","Light-fed","Dark-fed"],"range":["#1e1e1e","#c0262e","#3a6ea8"]},"legend":{"orient":"none","legendX":-2,"legendY":95,"title":null,"symbolType":"square","symbolSize":24,"labelFontSize":10,"labelColor":"#333","rowPadding":-2,"labelOffset":2}}},
  "layer":[
   {"mark":"bar","encoding":{"y":{"field":"mean","type":"quantitative","scale":{"domain":[0,6],"nice":false},"axis":{"values":[0,6],"title":null}}}},
   {"mark":{"type":"rule","strokeWidth":1},"encoding":{"y":{"field":"mean","type":"quantitative","title":null},"y2":{"field":"upper"}}},
   {"mark":{"type":"tick","size":3,"thickness":1},"encoding":{"y":{"field":"upper","type":"quantitative","title":null}}}]},
 {"data":{"name":"sig"},"transform":[{"filter":"datum.tissue=='iWAT'&&datum.gene=='Ucp1'"}],"layer":[
   {"mark":{"type":"rule","color":"#333","strokeWidth":0.8,"xOffset":-3,"x2Offset":3},"encoding":{"x":{"field":"from","type":"nominal","axis":{"orient":"top","labels":false,"ticks":false,"domain":false,"title":"Ucp1"}},"x2":{"field":"to"},"y":{"field":"y","type":"quantitative","title":null}}},
   {"mark":{"type":"text","fontSize":13,"dy":3.5,"baseline":"alphabetic","color":"#222"},"encoding":{"x":{"field":"mid","type":"nominal"},"y":{"field":"y","type":"quantitative","title":null},"text":{"field":"label"}}}]}]}
 ]}]}
],
"config":{
 "font":"Liberation Sans",
 "view":{"stroke":null},
 "axis":{"grid":false,"domainColor":"#444","tickColor":"#444","labelColor":"#333","labelFontSize":10,"titleFontWeight":"normal","titleFontSize":10.5,"titleColor":"#333","titlePadding":3},
 "axisX":{"ticks":false,"labelPadding":4,"labelAngle":0},
 "axisTop":{"titleFontStyle":"italic","titlePadding":6,"minExtent":0},
 "axisY":{"tickSize":3,"labelPadding":1},
 "title":{"fontStyle":"normal"},
 "legend":{"labelFont":"Liberation Sans"}
}
}
